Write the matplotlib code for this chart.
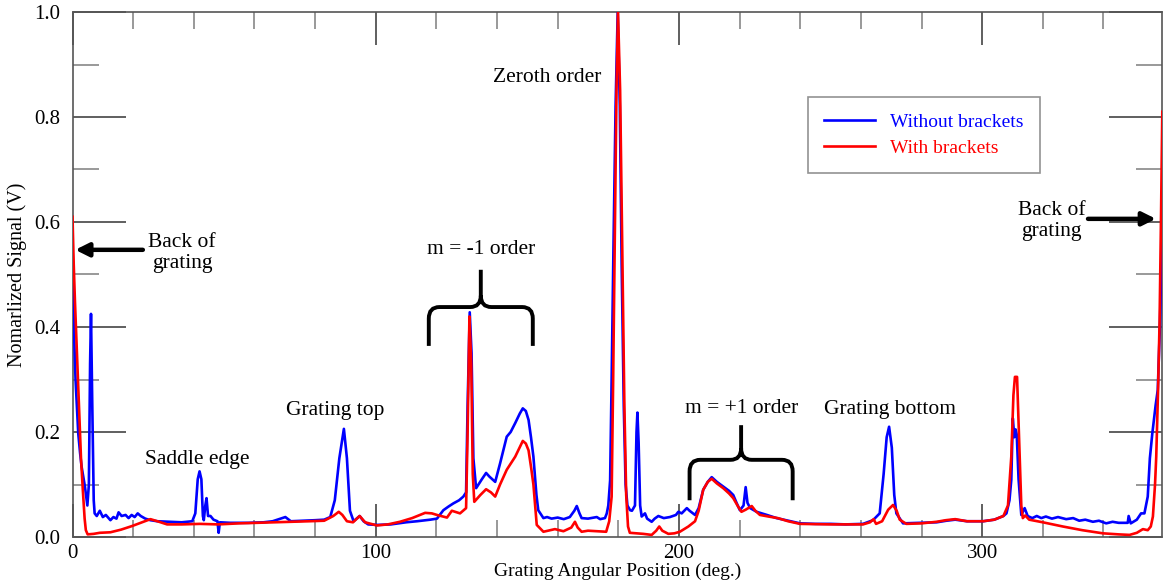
import matplotlib
matplotlib.use("Agg")
import matplotlib.pyplot as plt
from matplotlib.path import Path
from matplotlib.patches import PathPatch
from matplotlib.ticker import MultipleLocator, FormatStrFormatter

plt.rcParams['font.family'] = ['Liberation Serif', 'DejaVu Serif']

# ---- data: Without brackets (blue) ----
blue_x = [0.0, 0.3, 0.5, 1.0, 1.9, 2.5, 3.0, 4.1, 4.9, 5.4, 5.8, 6.1, 6.5, 7.0, 7.3, 8.0, 9.0, 10.0, 11.0,
          12.5, 13.5, 14.5, 15.2, 16.2, 17.5, 18.5, 19.5, 20.5, 21.5, 22.5, 24.0, 25.7, 28, 32, 36, 39.5,
          40.5, 41.3, 41.9, 42.5, 43.0, 43.3, 43.8, 44.2, 44.7, 45.5, 46.5, 47.8, 48.2, 48.6, 52, 58, 63,
          66, 70.2, 72, 76, 80, 83, 85, 86.5, 88, 89.5, 90.5, 91.5, 92.7, 94.7, 96, 97.5, 100.4, 105, 110,
          113.6, 118, 120.2, 122.3, 124.0, 125.6, 127.5, 128.9, 129.8, 130.3, 131.0, 131.6, 132.2, 133.1,
          135, 136.4, 137.5, 139.4, 141, 143.2, 144.5, 146, 147.5, 148.5, 149.5, 150.4, 151.2, 152, 153,
          153.6, 155.3, 156.5, 158, 160, 162, 164, 165.5, 166.3, 167.2, 167.9, 170, 172.9, 174, 175.6,
          176.2, 176.7, 177.3, 177.8, 178.4, 179.1, 179.8, 180.5, 181.1, 181.8, 182.4, 183.0, 183.9,
          184.5, 185.5, 186.0, 186.3, 186.7, 187.2, 187.7, 188.8, 189.5, 191.0, 192, 193.2, 195, 197, 199,
          199.8, 200.9, 202.6, 203.5, 205.3, 206.5, 208, 209.5, 210.8, 212.5, 214.6, 216.5, 217.9, 219,
          220.1, 221.3, 222.0, 222.6, 223.5, 225.6, 229, 232.2, 236, 239.9, 245, 250, 255, 260.7, 264,
          266.2, 267.5, 268.5, 269.3, 270.2, 271.0, 271.7, 273.9, 280, 285, 288.2, 291.1, 295, 300.3, 304,
          307, 308, 309.0, 309.6, 310.1, 310.6, 311.0, 311.4, 312.0, 312.9, 313.6, 314.0, 315.0, 316.5,
          318, 319.5, 321, 323, 325, 327.7, 330, 332, 334, 336.5, 338.5, 340.9, 343, 345, 348.0, 348.3,
          349.0, 351, 352.4, 353.5, 354.6, 355.3, 356.1, 357.2, 357.9, 358.6, 359.4]
blue_y = [0.56, 0.45, 0.39, 0.30, 0.197, 0.16, 0.134, 0.096, 0.060, 0.10, 0.33, 0.425, 0.26, 0.07, 0.045,
          0.040, 0.050, 0.038, 0.042, 0.032, 0.038, 0.035, 0.047, 0.040, 0.042, 0.036, 0.042, 0.038,
          0.045, 0.040, 0.035, 0.032, 0.030, 0.029, 0.028, 0.030, 0.045, 0.11, 0.125, 0.11, 0.04, 0.032,
          0.06, 0.074, 0.04, 0.040, 0.033, 0.030, 0.008, 0.028, 0.027, 0.027, 0.028, 0.030, 0.038, 0.030,
          0.031, 0.032, 0.033, 0.038, 0.07, 0.15, 0.206, 0.15, 0.05, 0.030, 0.040, 0.030, 0.024, 0.023,
          0.024, 0.028, 0.030, 0.033, 0.035, 0.051, 0.058, 0.064, 0.070, 0.077, 0.085, 0.25, 0.428,
          0.35, 0.15, 0.093, 0.11, 0.122, 0.115, 0.105, 0.14, 0.191, 0.200, 0.217, 0.235, 0.245, 0.240,
          0.223, 0.19, 0.153, 0.08, 0.051, 0.036, 0.038, 0.035, 0.037, 0.034, 0.038, 0.050, 0.059, 0.045,
          0.036, 0.035, 0.038, 0.034, 0.036, 0.045, 0.06, 0.108, 0.30, 0.55, 0.82, 1.0, 0.82, 0.52, 0.25,
          0.10, 0.06, 0.051, 0.050, 0.06, 0.20, 0.237, 0.18, 0.06, 0.039, 0.045, 0.035, 0.029, 0.035,
          0.040, 0.036, 0.038, 0.042, 0.048, 0.045, 0.055, 0.050, 0.042, 0.055, 0.090, 0.105, 0.114,
          0.105, 0.096, 0.088, 0.080, 0.065, 0.051, 0.060, 0.095, 0.065, 0.055, 0.048, 0.042, 0.036,
          0.031, 0.026, 0.025, 0.025, 0.024, 0.025, 0.032, 0.045, 0.12, 0.19, 0.21, 0.17, 0.08, 0.045,
          0.026, 0.027, 0.028, 0.031, 0.033, 0.030, 0.030, 0.033, 0.040, 0.045, 0.07, 0.109, 0.226, 0.19,
          0.205, 0.195, 0.11, 0.042, 0.05, 0.055, 0.040, 0.036, 0.040, 0.036, 0.039, 0.035, 0.038, 0.034,
          0.036, 0.031, 0.033, 0.029, 0.031, 0.026, 0.029, 0.027, 0.027, 0.040, 0.026, 0.033, 0.045,
          0.045, 0.077, 0.15, 0.197, 0.251, 0.28, 0.40, 0.60]

# ---- data: With brackets (red) ----
red_x = [0.0, 0.4, 0.8, 1.4, 2.1, 2.8, 3.4, 4.0, 4.4, 5.0, 7, 9, 12.5, 16, 19.7, 22.5, 25.7, 28, 31.2, 36,
         42, 48, 55, 61, 66, 72, 78, 83, 86, 87.8, 89, 90.5, 92.5, 94.7, 96.5, 100.4, 104, 108, 112, 116.3,
         118.5, 120.2, 123.5, 125.1, 127.8, 129.8, 130.3, 130.9, 131.5, 132.0, 132.5, 134.5, 136.4, 138,
         139.4, 141, 143.2, 146, 148.5, 149.5, 150.4, 151.3, 152, 152.7, 153.1, 155.3, 159.1, 161.9,
         164.5, 165.7, 166.6, 167.9, 170, 173.3, 176, 177.0, 177.8, 178.3, 178.9, 179.4, 179.9, 180.6,
         181.3, 182.0, 182.6, 183.2, 183.8, 186, 188.2, 191.0, 192.5, 193.5, 194.5, 196.5, 198.5, 200.3,
         203.1, 205.3, 206.5, 208, 209.5, 210.8, 212.5, 214.6, 216.5, 217.9, 219.5, 220.6, 222, 224.0,
         225.2, 226.7, 229.5, 232.6, 236, 239.9, 250, 260.7, 263, 264.2, 265.0, 267, 269, 270.6, 271.8,
         272.8, 275, 280, 285, 288, 291.1, 295, 300.3, 304, 307, 308.5, 309.6, 310.3, 310.8, 311.5,
         312.1, 312.9, 313.4, 314.2, 315.5, 320, 326.6, 333, 339.8, 345, 348.6, 351, 353.0, 354.6,
         355.6, 356.3, 357.0, 357.4, 358.0, 358.5, 359.0, 359.4]
red_y = [0.61, 0.52, 0.45, 0.36, 0.26, 0.15, 0.09, 0.035, 0.013, 0.005, 0.006, 0.008, 0.009, 0.014, 0.021,
         0.027, 0.034, 0.030, 0.024, 0.024, 0.025, 0.024, 0.026, 0.027, 0.028, 0.029, 0.030, 0.031, 0.040,
         0.048, 0.042, 0.030, 0.028, 0.040, 0.028, 0.022, 0.024, 0.029, 0.036, 0.046, 0.045, 0.042, 0.037,
         0.050, 0.045, 0.055, 0.20, 0.42, 0.33, 0.12, 0.067, 0.080, 0.091, 0.085, 0.077, 0.10, 0.128,
         0.153, 0.183, 0.178, 0.165, 0.13, 0.10, 0.05, 0.023, 0.010, 0.015, 0.011, 0.018, 0.029, 0.018,
         0.010, 0.012, 0.011, 0.010, 0.03, 0.077, 0.30, 0.60, 0.85, 1.0, 0.85, 0.55, 0.25, 0.08, 0.02,
         0.008, 0.007, 0.006, 0.004, 0.012, 0.020, 0.012, 0.006, 0.007, 0.010, 0.020, 0.030, 0.050,
         0.090, 0.105, 0.111, 0.102, 0.093, 0.083, 0.074, 0.058, 0.048, 0.052, 0.059, 0.050, 0.042,
         0.039, 0.036, 0.030, 0.025, 0.024, 0.024, 0.028, 0.034, 0.025, 0.030, 0.052, 0.061, 0.05, 0.033,
         0.025, 0.026, 0.029, 0.032, 0.034, 0.030, 0.030, 0.033, 0.040, 0.06, 0.153, 0.27, 0.305, 0.305,
         0.20, 0.06, 0.036, 0.041, 0.033, 0.028, 0.020, 0.013, 0.007, 0.005, 0.004, 0.008, 0.015, 0.013,
         0.020, 0.039, 0.10, 0.153, 0.28, 0.41, 0.62, 0.81]

series_labels = ["Without brackets", "With brackets"]
series_colors = ["#0000ff", "#ff0000"]

fig = plt.figure(figsize=(11.63, 5.86), dpi=100)
ax = fig.add_axes([72.5 / 1163, 1 - 537 / 586, (1162 - 72.5) / 1163, (537 - 12) / 586])

ax.plot(blue_x, blue_y, color=series_colors[0], lw=1.9, label=series_labels[0], zorder=3)
ax.plot(red_x, red_y, color=series_colors[1], lw=1.9, label=series_labels[1], zorder=4)

ax.set_xlim(0, 359.3)
ax.set_ylim(0, 1.0)
ax.xaxis.set_major_locator(MultipleLocator(100))
ax.xaxis.set_minor_locator(MultipleLocator(20))
ax.yaxis.set_major_locator(MultipleLocator(0.2))
ax.yaxis.set_minor_locator(MultipleLocator(0.1))
ax.tick_params(axis='x', which='major', direction='in', length=24, width=1.2, color='#444444',
               top=True, bottom=True, labelsize=15, pad=5)
ax.tick_params(axis='x', which='minor', direction='in', length=12, width=1.2, color='#888888',
               top=True, bottom=True)
ax.tick_params(axis='y', which='major', direction='in', length=38, width=1.2, color='#444444',
               left=True, right=True, labelsize=15, pad=9)
ax.tick_params(axis='y', which='minor', direction='in', length=19, width=1.2, color='#888888',
               left=True, right=True)
ax.yaxis.set_major_formatter(FormatStrFormatter('%.1f'))
ax.xaxis.set_major_formatter(FormatStrFormatter('%d'))
for s in ax.spines.values():
    s.set_color('#555555')
    s.set_linewidth(1.2)

ax.set_xlabel("Grating Angular Position (deg.)", fontsize=14, labelpad=0)
ax.set_ylabel("Nomarlized Signal (V)", fontsize=14.5, labelpad=5)

leg = ax.legend(loc='upper left', bbox_to_anchor=((808 - 72.5) / 1090, 1 - (97 - 12) / 525),
                fontsize=14, frameon=True, fancybox=False, handlelength=2.6, handletextpad=0.8,
                borderpad=0.85, labelspacing=0.42, borderaxespad=0)
leg.get_frame().set_edgecolor('#777777')
leg.get_frame().set_linewidth(1.2)
for t, c in zip(leg.get_texts(), series_colors):
    t.set_color(c)

fs = 15.5
ax.text(36.1, 0.541, "Back of\ngrating", ha='center', va='center', fontsize=fs, linespacing=1.15)
ax.text(322.8, 0.602, "Back of\ngrating", ha='center', va='center', fontsize=fs, linespacing=1.15)
ax.text(156.7, 0.876, "Zeroth order", ha='center', va='center', fontsize=fs)
ax.text(134.6, 0.547, "m = -1 order", ha='center', va='center', fontsize=fs)
ax.text(86.5, 0.240, "Grating top", ha='center', va='center', fontsize=fs)
ax.text(41.0, 0.147, "Saddle edge", ha='center', va='center', fontsize=fs)
ax.text(220.6, 0.244, "m = +1 order", ha='center', va='center', fontsize=fs)
ax.text(269.7, 0.242, "Grating bottom", ha='center', va='center', fontsize=fs)

arrow = dict(arrowstyle='-|>', lw=3.2, color='black', mutation_scale=20, shrinkA=0, shrinkB=0)
ax.annotate("", xy=(0.9, 0.547), xytext=(23.2, 0.547), arrowprops=arrow, zorder=6)
ax.annotate("", xy=(357.3, 0.606), xytext=(334.9, 0.606), arrowprops=arrow, zorder=6)


def brace(xl, xr, yb, yh, ytip, rx=3.5, ry=0.022):
    xc = (xl + xr) / 2
    verts = [(xl, yb), (xl, yh - ry), (xl, yh), (xl + rx, yh), (xc - rx, yh), (xc, yh), (xc, yh + ry),
             (xc, ytip),
             (xc, yh + ry), (xc, yh), (xc + rx, yh), (xr - rx, yh), (xr, yh), (xr, yh - ry), (xr, yb)]
    codes = [Path.MOVETO, Path.LINETO, Path.CURVE3, Path.CURVE3, Path.LINETO, Path.CURVE3, Path.CURVE3,
             Path.LINETO,
             Path.MOVETO, Path.CURVE3, Path.CURVE3, Path.LINETO, Path.CURVE3, Path.CURVE3, Path.LINETO]
    ax.add_patch(PathPatch(Path(verts, codes), fill=False, lw=2.8, edgecolor='black',
                           capstyle='butt', joinstyle='miter', zorder=6))


brace(117.5, 151.8, 0.364, 0.438, 0.509)
brace(203.5, 237.5, 0.070, 0.147, 0.213)

fig.savefig("out.png", dpi=100)
